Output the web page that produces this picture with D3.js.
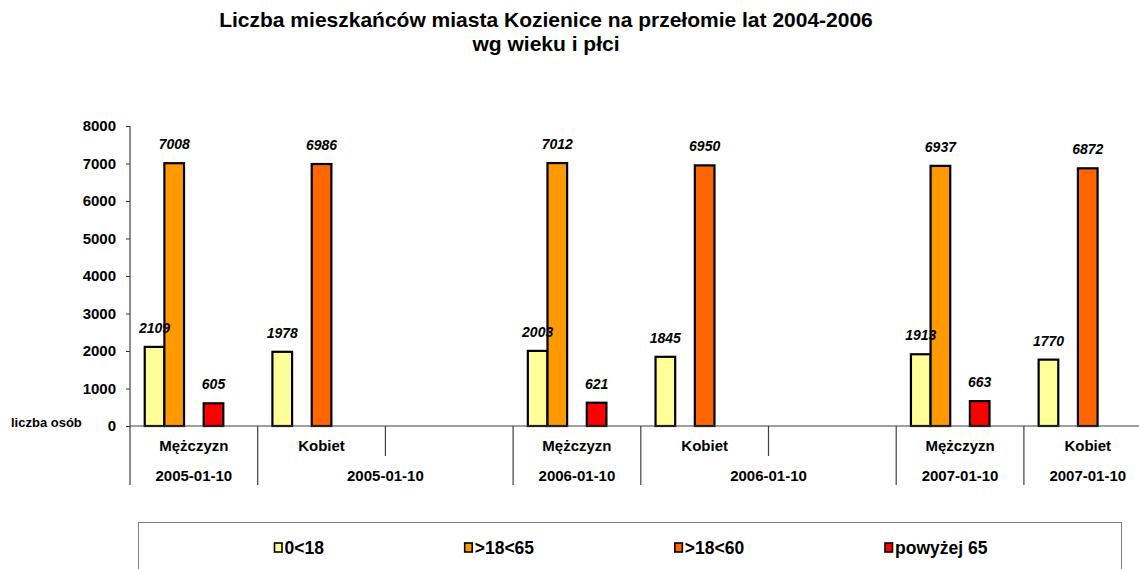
<!DOCTYPE html>
<html><head><meta charset="utf-8">
<script src="https://cdn.jsdelivr.net/npm/d3@7"></script>
<style>
body{margin:0;background:#fff}
text{font-family:"Liberation Sans",Arial,sans-serif;font-weight:bold;fill:#000}
</style>
</head><body>
<svg id="c" width="1139" height="569"></svg>
<script>
// ---- data ----
const titleLines = ["Liczba mieszkańców miasta Kozienice na przełomie lat 2004-2006", "wg wieku i płci"];
const yAxisLabel = "liczba osób";
const categories = ["Mężczyzn", "Kobiet", "", "Mężczyzn", "Kobiet", "", "Mężczyzn", "Kobiet"];
const categoryGroup = [0, 1, 1, 2, 3, 3, 4, 5];
const groupLabels = ["2005-01-10", "2005-01-10", "2006-01-10", "2006-01-10", "2007-01-10", "2007-01-10"];
const seriesNames = ["0<18", ">18<65", ">18<60", "powyżej 65"];
const seriesColors = ["#FFFF99", "#FF9900", "#FF6600", "#FF0000"];
const age0to18   = [2109, 1978, null, 2003, 1845, null, 1913, 1770];
const age18to65  = [7008, null, null, 7012, null, null, 6937, null];
const age18to60  = [null, 6986, null, null, 6950, null, null, 6872];
const age65plus  = [605, null, null, 621, null, null, 663, null];
const yTicks = [0, 1000, 2000, 3000, 4000, 5000, 6000, 7000, 8000];

const seriesValues = [age0to18, age18to65, age18to60, age65plus];

// ---- layout ----
const svg = d3.select("#c");
const plotLeft = 130, plotRight = 1151.6, plotTop = 126, plotBottom = 426;
const x0 = d3.scaleBand().domain(d3.range(categories.length)).range([plotLeft, plotRight]).padding(0);
const slots = d3.range(seriesNames.length + 1); // chart reserves one extra empty slot
const x1 = d3.scaleBand().domain(slots).range([0, x0.bandwidth()]).paddingInner(0).paddingOuter(0.75);
const y = d3.scaleLinear().domain([0, 8000]).range([plotBottom, plotTop]);

// title
svg.append("g").selectAll("text").data(titleLines).join("text")
  .attr("x", 546).attr("y", (d, i) => 27 + i * 23.5)
  .attr("text-anchor", "middle").style("font-size", "21px").text(d => d);

// y axis
const yAxis = d3.axisLeft(y).tickValues(yTicks).tickSize(4).tickPadding(10).tickFormat(d3.format("d"));
const gy = svg.append("g").attr("transform", `translate(${plotLeft},0)`).call(yAxis);
gy.select(".domain").remove();
gy.selectAll(".tick line").attr("stroke", "#333");
gy.selectAll(".tick text").style("font-size", "15px").style("font-family", '"Liberation Sans",Arial,sans-serif').style("font-weight", "bold").attr("fill", "#000");

svg.append("text").attr("x", 11).attr("y", 427).style("font-size", "13px").text(yAxisLabel);

// bars
const barData = [];
seriesValues.forEach((vals, si) => vals.forEach((v, ci) => {
  if (v != null) barData.push({si, ci, v});
}));
svg.append("g").selectAll("rect").data(barData).join("rect")
  .attr("x", d => x0(d.ci) + x1(d.si))
  .attr("y", d => y(d.v))
  .attr("width", x1.bandwidth())
  .attr("height", d => y(0) - y(d.v))
  .attr("fill", d => seriesColors[d.si])
  .attr("stroke", "#000").attr("stroke-width", 2.2);

// axis lines
const axisColor = "#404040";
svg.append("line").attr("x1", plotLeft).attr("x2", plotRight).attr("y1", plotBottom).attr("y2", plotBottom)
  .attr("stroke", axisColor).attr("stroke-width", 1.2);
svg.append("line").attr("x1", plotLeft).attr("x2", plotLeft).attr("y1", plotTop).attr("y2", 485)
  .attr("stroke", axisColor).attr("stroke-width", 1.2);

// category dividers
const dividers = d3.range(1, categories.length).map(i => ({
  x: x0(i), full: categoryGroup[i] !== categoryGroup[i - 1]
}));
svg.append("g").selectAll("line").data(dividers).join("line")
  .attr("x1", d => d.x).attr("x2", d => d.x)
  .attr("y1", plotBottom).attr("y2", d => d.full ? 485 : 456)
  .attr("stroke", axisColor).attr("stroke-width", 1.2);

// category labels
svg.append("g").selectAll("text").data(categories).join("text")
  .attr("x", (d, i) => x0(i) + x0.bandwidth() / 2).attr("y", 451)
  .attr("text-anchor", "middle").style("font-size", "15px").text(d => d);

// group labels
const groups = groupLabels.map((lab, g) => {
  const idx = categoryGroup.map((c, i) => c === g ? i : -1).filter(i => i >= 0);
  const xs = x0(d3.min(idx)), xe = x0(d3.max(idx)) + x0.bandwidth();
  return {lab, cx: (xs + xe) / 2};
});
svg.append("g").selectAll("text").data(groups).join("text")
  .attr("x", d => d.cx).attr("y", 481)
  .attr("text-anchor", "middle").style("font-size", "15px").text(d => d.lab);

// value labels
svg.append("g").selectAll("text").data(barData).join("text")
  .attr("x", d => x0(d.ci) + x1(d.si) + x1.bandwidth() / 2)
  .attr("y", d => y(d.v) - 14)
  .attr("text-anchor", "middle").style("font-size", "14px").style("font-style", "italic")
  .text(d => d.v);

// legend
const legend = svg.append("g");
legend.append("rect").attr("x", 138.5).attr("y", 522.5).attr("width", 983).attr("height", 80)
  .attr("fill", "#fff").attr("stroke", "#808080").attr("stroke-width", 1);
const items = legend.selectAll("g.item").data(seriesNames).join("g").attr("class", "item");
items.append("rect").attr("x", 0).attr("y", 543).attr("width", 7.5).attr("height", 9)
  .attr("fill", (d, i) => seriesColors[i]).attr("stroke", "#000").attr("stroke-width", 1.6);
items.append("text").attr("x", 10).attr("y", 553.5).style("font-size", "17.5px").text(d => d);
const widths = [];
items.each(function() { widths.push(this.getBBox().width); });
const firstX = 274.5, lastX = 885;
const gap = (lastX - firstX - d3.sum(widths.slice(0, -1))) / (seriesNames.length - 1);
let cx = firstX;
items.attr("transform", (d, i) => { const t = `translate(${cx},0)`; cx += widths[i] + gap; return t; });
</script>
</body></html>
